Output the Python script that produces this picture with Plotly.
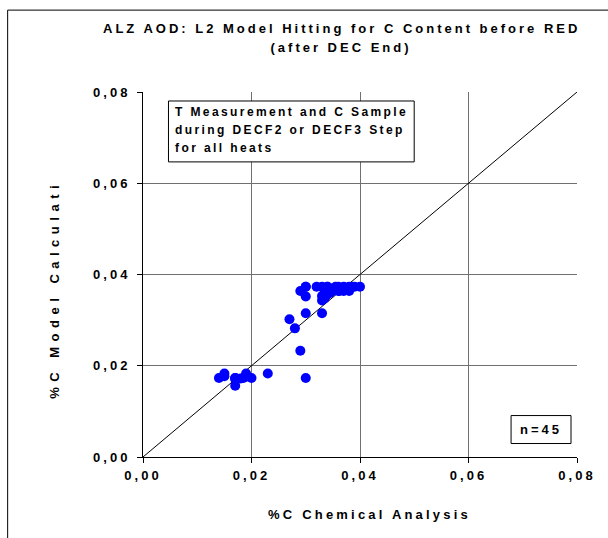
import plotly.graph_objects as go

# ---- data ----
chem_c = [0.014, 0.015, 0.015, 0.017, 0.017, 0.017, 0.018, 0.019, 0.019, 0.020, 0.023, 0.0185,
          0.027, 0.028, 0.029, 0.030, 0.030, 0.033,
          0.030, 0.032, 0.034, 0.0355, 0.036, 0.037, 0.0385, 0.039, 0.040, 0.033,
          0.029, 0.0335, 0.035, 0.0362, 0.038, 0.037,
          0.030, 0.033, 0.033, 0.0335, 0.034, 0.0345,
          0.034, 0.036, 0.038, 0.017, 0.030]
model_c = [0.0173, 0.0183, 0.0177, 0.0171, 0.0156, 0.0173, 0.0172, 0.0183, 0.0176, 0.0173, 0.0183, 0.0173,
           0.0302, 0.0282, 0.0233, 0.0173, 0.0315, 0.0315,
           0.0373, 0.0373, 0.0373, 0.0373, 0.0373, 0.0373, 0.0373, 0.0373, 0.0373, 0.0373,
           0.0364, 0.0364, 0.0364, 0.0364, 0.0364, 0.0364,
           0.0352, 0.0353, 0.0343, 0.0348, 0.0356, 0.0360,
           0.0373, 0.0364, 0.0373, 0.0173, 0.0373]
diag = [0.0, 0.08]
tick_vals = [0.0, 0.02, 0.04, 0.06, 0.08]
title_lines = ["ALZ AOD: L2 Model Hitting for C Content before RED", "(after DEC End)"]
box_lines = ["T Measurement and C Sample", "during DECF2 or DECF3 Step", "for all heats"]
n_text = "n=45"
x_title = "%C Chemical Analysis"
y_title = "%C Model Calculati"

W, H = 608, 538
L, R, T, B = 142.5, 31, 92, 80.5
PW, PH = W - L - R, H - T - B

def px(x):
    return (x - L) / PW

def py(y):
    return (H - B - y) / PH

FAM = "Liberation Sans, Arial, sans-serif"
FONT = dict(family=FAM, size=13, color="black", weight="bold")
FONT_BOX = dict(family=FAM, size=12, color="black", weight="bold")

fig = go.Figure()
fig.add_trace(go.Scatter(x=diag, y=diag, mode="lines",
                         line=dict(color="black", width=1), hoverinfo="skip", showlegend=False))
fig.add_trace(go.Scatter(x=chem_c, y=model_c, mode="markers",
                         marker=dict(color="#0000FF", size=10, line=dict(width=0)),
                         showlegend=False))

axis_common = dict(range=[0, 0.08], tickvals=tick_vals, tickformat=".2f",
                   showgrid=True, gridcolor="#707070", gridwidth=1,
                   showline=True, linecolor="black", linewidth=1,
                   ticks="outside", ticklen=5, tickcolor="black",
                   zeroline=False, tickfont=FONT, fixedrange=True)

annotations = []
for txt, yy in zip(title_lines, [28.5, 47.5]):
    annotations.append(dict(text=txt, xref="paper", yref="paper", x=px(341), y=py(yy),
                            xanchor="center", yanchor="middle", showarrow=False, font=FONT))
for txt, yy in zip(box_lines, [112, 130.5, 148]):
    annotations.append(dict(text=txt, xref="paper", yref="paper", x=px(173), y=py(yy),
                            xanchor="left", yanchor="middle", align="left",
                            showarrow=False, font=FONT_BOX))
annotations += [
    dict(text=n_text, xref="paper", yref="paper", x=px(541), y=py(430),
         xanchor="center", yanchor="middle", showarrow=False, font=FONT),
    dict(text=x_title, xref="paper", yref="paper", x=px(369), y=py(515),
         xanchor="center", yanchor="middle", showarrow=False, font=FONT),
    dict(text=y_title, xref="paper", yref="paper", x=px(54), y=py(290),
         xanchor="center", yanchor="middle", showarrow=False, font=FONT, textangle=-90),
]

fig.update_layout(
    width=W, height=H,
    margin=dict(l=L, r=R, t=T, b=B, pad=0),
    paper_bgcolor="white", plot_bgcolor="white",
    separators=",.",
    xaxis=dict(**axis_common, ticklabelstandoff=1),
    yaxis=dict(**axis_common, ticklabelstandoff=4),
    showlegend=False,
    hovermode=False,
    shapes=[
        dict(type="rect", xref="paper", yref="paper", x0=px(7), x1=px(620), y0=py(10), y1=py(550),
             line=dict(color="black", width=1), fillcolor="rgba(0,0,0,0)", layer="below"),
        dict(type="rect", xref="paper", yref="paper", x0=px(168), x1=px(414), y0=py(101), y1=py(162),
             line=dict(color="black", width=1), fillcolor="white"),
        dict(type="rect", xref="paper", yref="paper", x0=px(511), x1=px(571), y0=py(416), y1=py(444),
             line=dict(color="black", width=1), fillcolor="white"),
    ],
    annotations=annotations,
)

post = """
document.body.style.margin = '0';
document.body.style.padding = '0';
var spacing = {};
spacing[%s] = 3.0;
spacing[%s] = 3.0;
spacing[%s] = 2.4;
spacing[%s] = 2.4;
spacing[%s] = 2.4;
spacing[%s] = 3.0;
spacing[%s] = 3.2;
spacing[%s] = 5.5;
document.querySelectorAll('.main-svg text').forEach(function(t){
  var s = spacing[t.textContent];
  if (s === undefined) { s = 3.0; }
  t.style.letterSpacing = s + 'px';
});
""" % tuple(repr(s) for s in title_lines + box_lines + [n_text, x_title, y_title])

fig.write_html("out.html", post_script=post, config={"displayModeBar": False, "staticPlot": True})
